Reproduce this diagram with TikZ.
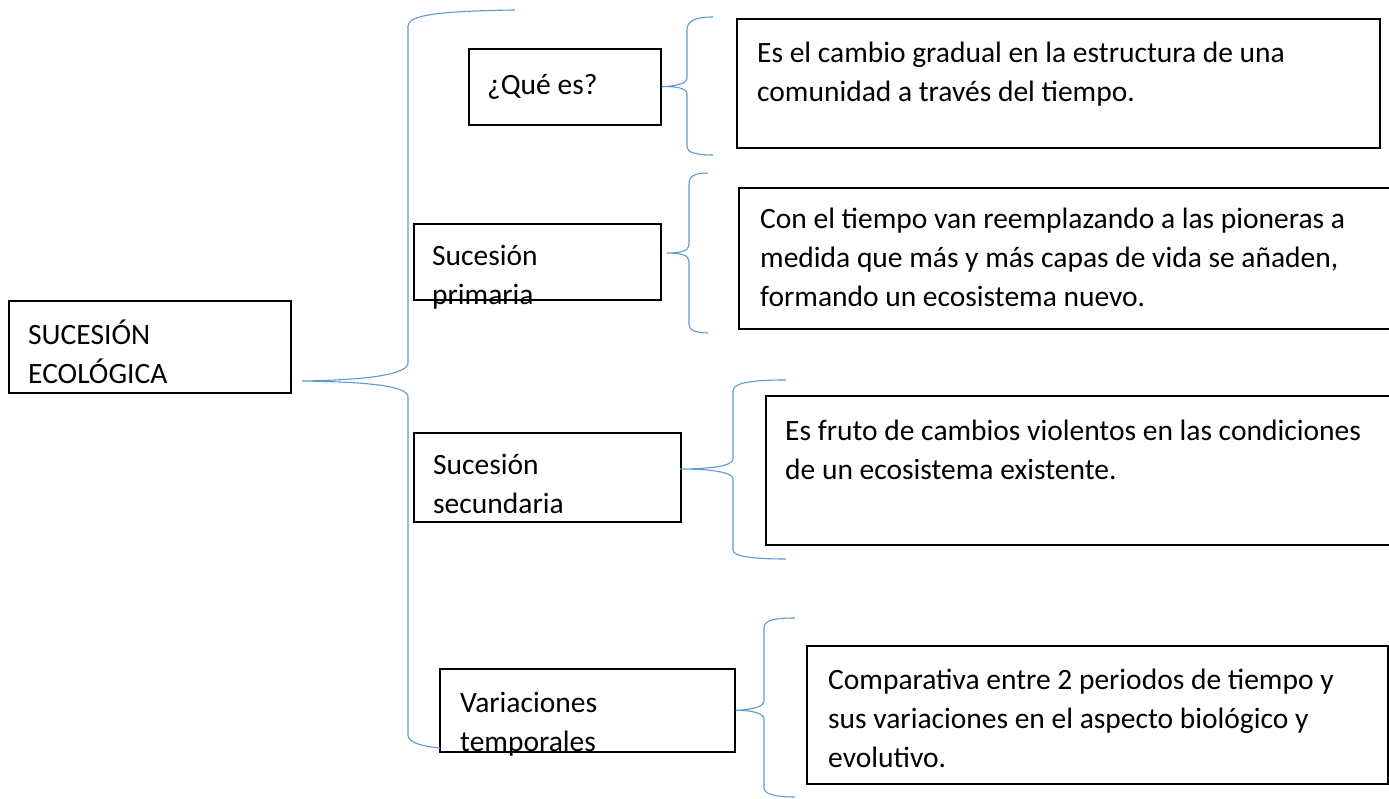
\documentclass[tikz,border=0pt]{standalone}
\usepackage{fontspec}
\setmainfont{Carlito}
\definecolor{azul}{RGB}{91,155,213}
\tikzset{
  caja/.style={draw=black, line width=1.6pt, inner sep=0pt, anchor=north west},
  txt/.style={inner sep=0pt, anchor=base west, align=left, font=\fontsize{29.5}{39}\selectfont},
  llave/.style={draw=azul, line width=1.1pt}
}
\begin{document}
\begin{tikzpicture}[x=1pt, y=-1pt]
      \useasboundingbox (0,0) rectangle (1389,799);
      \clip (0,0) rectangle (1389,799);
%       boxes on the left (text placed by its last baseline)
      \node[caja, minimum width=282, minimum height=92] (suc) at (8,300) {};
      \node[txt] (suc-t) at (28,383) {SUCESIÓN\\ECOLÓGICA};
      \node[caja, minimum width=192, minimum height=76] (que) at (468,48) {};
      \node[txt] (que-t) at (487,95) {¿Qué es?};
      \node[caja, minimum width=247, minimum height=76] (prim) at (413,223) {};
      \node[txt] (prim-t) at (432,305) {Sucesión\\primaria};
      \node[caja, minimum width=267, minimum height=89] (sec) at (413,432) {};
      \node[txt] (sec-t) at (433,513) {Sucesión\\secundaria};
      \node[caja, minimum width=295, minimum height=83] (var) at (439,668) {};
      \node[txt] (var-t) at (460,751) {Variaciones\\temporales};
%       boxes on the right
      \node[caja, minimum width=643, minimum height=129] (def) at (736,18) {};
      \node[txt] (def-t) at (757,102) {Es el cambio gradual en la estructura de una\\comunidad a través del tiempo.};
      \node[caja, minimum width=700, minimum height=141] (prim-d) at (738,187) {};
      \node[txt] (prim-dt) at (760,307) {Con el tiempo van reemplazando a las pioneras a\\medida que más y más capas de vida se añaden,\\formando un ecosistema nuevo.};
      \node[caja, minimum width=700, minimum height=149] (sec-d) at (765,395) {};
      \node[txt] (sec-dt) at (785,479) {Es fruto de cambios violentos en las condiciones\\de un ecosistema existente.};
      \node[caja, minimum width=581, minimum height=138] (var-d) at (806,645) {};
      \node[txt] (var-dt) at (828,767) {Comparativa entre 2 periodos de tiempo y\\sus variaciones en el aspecto biológico y\\evolutivo.};
%       brace ends
      \coordinate (g0) at (302,381); \coordinate (g1) at (515,10); \coordinate (g2) at (440,748);
      \coordinate (q0) at (que.east); \coordinate (q1) at (713,17); \coordinate (q2) at (713,155);
      \coordinate (p0) at (667,253); \coordinate (p1) at (708,173); \coordinate (p2) at (708,333);
      \coordinate (s0) at (680,469); \coordinate (s1) at (786,380); \coordinate (s2) at (786,559);
      \coordinate (v0) at (var.east); \coordinate (v1) at (795,618); \coordinate (v2) at (795,797);
%       braces
      \draw[llave] (g1) .. controls (440,11) and (408,15) .. (408,26) -- (408,363) .. controls (408,374) and (370,380) .. (g0)
                   .. controls (370,382) and (408,386) .. (408,397) -- (408,735) .. controls (408,742) and (420,746) .. (g2);
      \draw[llave] (q1) .. controls (695,17) and (687,21) .. (687,30) -- (687,78) .. controls (687,84) and (675,86) .. (q0)
                   .. controls (675,86) and (687,88) .. (687,94) -- (687,147) .. controls (687,152) and (695,155) .. (q2);
      \draw[llave] (p1) .. controls (695,173) and (689,176) .. (689,184) -- (689,245) .. controls (689,251) and (680,253) .. (p0)
                   .. controls (680,253) and (689,255) .. (689,261) -- (689,324) .. controls (689,330) and (695,333) .. (p2);
      \draw[llave] (s1) .. controls (750,380) and (733,383) .. (733,391) -- (733,459) .. controls (733,466) and (710,469) .. (s0)
                   .. controls (710,469) and (733,472) .. (733,479) -- (733,550) .. controls (733,556) and (750,559) .. (s2);
      \draw[llave] (v1) .. controls (775,618) and (764,620) .. (764,628) -- (764,701) .. controls (764,707) and (750,710) .. (v0)
                   .. controls (750,710) and (764,713) .. (764,719) -- (764,788) .. controls (764,794) and (775,797) .. (v2);
\end{tikzpicture}
\end{document}
